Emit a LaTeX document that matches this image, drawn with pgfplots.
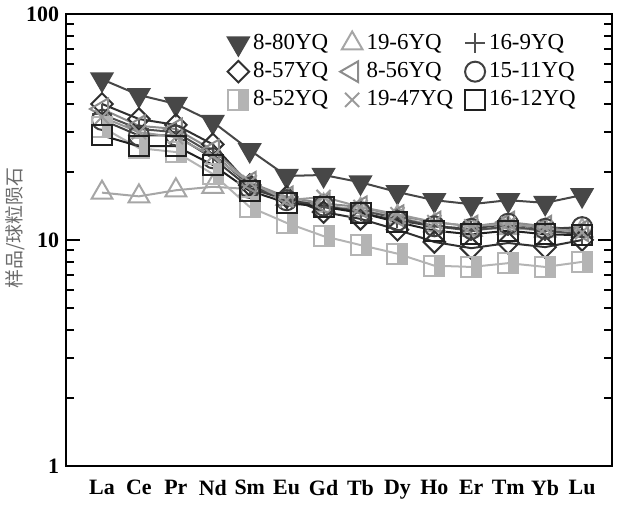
\documentclass[border=0pt]{standalone}
\usepackage{pgfplots}
\pgfplotsset{compat=1.18}
\usepackage{fontspec}
\setmainfont{Liberation Serif}
\newfontfamily\cjk{Noto Sans CJK SC}
\definecolor{cA}{HTML}{474747}
\definecolor{cB}{HTML}{303030}
\definecolor{cC}{HTML}{B4B4B4}
\definecolor{cD}{HTML}{A6A6A6}
\definecolor{cE}{HTML}{8C8C8C}
\definecolor{cF}{HTML}{9A9A9A}
\definecolor{cG}{HTML}{505050}
\definecolor{cH}{HTML}{404040}
\definecolor{cI}{HTML}{202020}
\pgfdeclareplotmark{halfsq}{%
  \pgfpathrectangle{\pgfqpoint{0pt}{-\pgfplotmarksize}}{\pgfqpoint{\pgfplotmarksize}{2\pgfplotmarksize}}%
  \pgfusepathqfill
  \pgfpathrectangle{\pgfqpoint{-\pgfplotmarksize}{-\pgfplotmarksize}}{\pgfqpoint{2\pgfplotmarksize}{2\pgfplotmarksize}}%
  \pgfusepathqstroke
}
\begin{document}
\begin{tikzpicture}
\begin{axis}[
  scale only axis, width=273bp, height=226bp,
  ymode=log, ymin=1, ymax=100,
  xmin=-0.975, xmax=13.81,
  axis line style={line width=1.1bp, black},
  ytick={1,10,100}, yticklabels={\textbf{1},\textbf{10},\textbf{100}},
  xtick={0,...,13}, minor xtick={0,...,13},
  xtick style={draw=none},
  xticklabels={\textbf{La},\textbf{Ce},\textbf{Pr},\textbf{Nd},\textbf{Sm},\textbf{Eu},\textbf{Gd},\textbf{Tb},\textbf{Dy},\textbf{Ho},\textbf{Er},\textbf{Tm},\textbf{Yb},\textbf{Lu}},
  tick pos=both, xticklabel pos=lower, yticklabel pos=left,
  tick align=inside,
  major tick length=7bp, minor tick length=4bp,
  every tick/.style={line width=0.9bp, black},
  ticklabel style={font=\fontsize{11}{12}\selectfont},
  xticklabel style={yshift=-3.5bp},
  ylabel={\cjk 样品/球粒陨石},
  ylabel style={font=\fontsize{9.5}{10}\selectfont, text=black!58, at={(axis description cs:-0.062,0.527)}, anchor=south},
  legend columns=3,
  legend style={at={(1,1)}, anchor=north east, xshift=-13bp, yshift=-6bp, draw=none, fill=none,
    font=\fontsize{11.5}{12.5}\selectfont, row sep=1bp,
    /tikz/every even column/.append style={column sep=4bp}},
  legend cell align=left,
  legend image code/.code={\draw[#1] plot[only marks] coordinates {(0.2cm,0cm)};},
  every axis plot/.append style={line width=1bp},
]
% 8-80YQ
\addplot[color=cA, mark=triangle*, mark size=6bp, mark options={rotate=180, fill=cA}] coordinates {
(0,51.4)(1,43.8)(2,40)(3,33.3)(4,25)(5,19.2)(6,19.4)(7,18)(8,16.3)(9,15)(10,14.4)(11,15)(12,14.6)(13,15.8)};
\addlegendentry{8-80YQ}
% 19-6YQ
\addplot[color=cD, mark=triangle, mark size=6bp] coordinates {
(0,16.2)(1,15.6)(2,16.6)(3,17.2)(4,16.8)(5,15.2)(6,14.2)(7,13.6)(8,12.6)(9,11.6)(10,11.1)(11,11.3)(12,11)(13,11)};
\addlegendentry{19-6YQ}
% 16-9YQ
\addplot[color=cG, mark=+, mark size=5bp] coordinates {
(0,36)(1,31)(2,30)(3,24)(4,17.5)(5,15)(6,14)(7,13.5)(8,12.5)(9,11.5)(10,11)(11,11.5)(12,11)(13,10.6)};
\addlegendentry{16-9YQ}
% 8-57YQ
\addplot[color=cB, mark=square, mark size=3.8bp, mark options={rotate=45}] coordinates {
(0,40)(1,34.3)(2,32.3)(3,26.5)(4,17.5)(5,15.5)(6,13.3)(7,12.4)(8,11.1)(9,9.8)(10,9.2)(11,9.7)(12,9.3)(13,10)};
\addlegendentry{8-57YQ}
% 8-56YQ
\addplot[color=cE, mark=triangle, mark size=6bp, mark options={rotate=90}] coordinates {
(0,38)(1,32)(2,31)(3,25)(4,18)(5,15.5)(6,14.5)(7,14)(8,12.8)(9,12)(10,11.5)(11,12)(12,11.5)(13,11)};
\addlegendentry{8-56YQ}
% 15-11YQ
\addplot[color=cH, mark=o, mark size=5bp] coordinates {
(0,34)(1,29)(2,29)(3,23)(4,17)(5,15)(6,14.2)(7,13.2)(8,12.2)(9,11.5)(10,11.2)(11,11.8)(12,11.2)(13,11.4)};
\addlegendentry{15-11YQ}
% 8-52YQ
\addplot[color=cC, mark=halfsq, mark size=5bp, mark options={fill=cC}] coordinates {
(0,31.6)(1,25.5)(2,24.5)(3,19.6)(4,14)(5,11.9)(6,10.4)(7,9.5)(8,8.7)(9,7.7)(10,7.6)(11,7.9)(12,7.6)(13,8)};
\addlegendentry{8-52YQ}
% 19-47YQ
\addplot[color=cF, mark=x, mark size=5bp] coordinates {
(0,35)(1,30)(2,28.5)(3,23.5)(4,18)(5,15)(6,15.5)(7,14)(8,13)(9,12)(10,11.5)(11,11.8)(12,11.3)(13,10.8)};
\addlegendentry{19-47YQ}
% 16-12YQ
\addplot[color=cI, mark=square, mark size=5bp] coordinates {
(0,29)(1,26)(2,26)(3,21.5)(4,16.5)(5,14.6)(6,14)(7,13.2)(8,12)(9,11)(10,10.6)(11,11)(12,10.6)(13,10.5)};
\addlegendentry{16-12YQ}
\end{axis}
\pgfresetboundingbox
\path[use as bounding box] ([xshift=-33bp,yshift=-20bp]current axis.south west) rectangle ([xshift=8.5bp,yshift=7bp]current axis.north east);
\end{tikzpicture}
\end{document}
